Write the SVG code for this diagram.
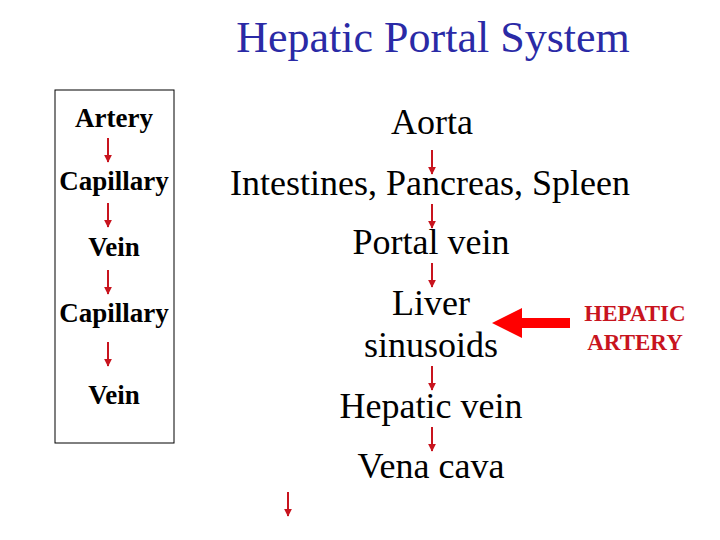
<svg xmlns="http://www.w3.org/2000/svg" width="720" height="540" viewBox="0 0 720 540">
<defs>
<style>
text{font-family:'Liberation Serif','Times New Roman',serif;text-anchor:middle}
.title{font-size:44px;fill:#2a2aa6}
.lt{font-size:27px;font-weight:bold;fill:#000}
.rt{font-size:36px;fill:#000}
.ha{font-size:23px;font-weight:bold;fill:#c8141e}
.sa{stroke:#c8141e;stroke-width:2;fill:none;marker-end:url(#ah)}
</style>
<marker id="ah" viewBox="0 0 10 10" refX="9" refY="5" markerWidth="4" markerHeight="4" orient="auto" markerUnits="strokeWidth">
<path d="M0,0 L10,5 L0,10 z" fill="#c8141e"/>
</marker>
</defs>
<rect width="720" height="540" fill="#fff"/>
<text class="title" x="433" y="52">Hepatic Portal System</text>
<g id="box"><rect x="55" y="90" width="119" height="353" fill="none" stroke="#000" stroke-width="1"/></g>
<g id="artery"><text class="lt" x="114" y="127">Artery</text></g>
<g id="capillary1"><text class="lt" x="114" y="190">Capillary</text></g>
<g id="vein1"><text class="lt" x="114" y="256">Vein</text></g>
<g id="capillary2"><text class="lt" x="114" y="322">Capillary</text></g>
<g id="vein2"><text class="lt" x="114" y="404">Vein</text></g>
<g id="aorta"><text class="rt" x="432" y="134">Aorta</text></g>
<g id="intestines"><text class="rt" x="430" y="195">Intestines, Pancreas, Spleen</text></g>
<g id="portal"><text class="rt" x="431" y="254">Portal vein</text></g>
<g id="liver"><text class="rt" x="431" y="315">Liver</text><text class="rt" x="431" y="357">sinusoids</text></g>
<g id="hepaticvein"><text class="rt" x="431" y="418">Hepatic vein</text></g>
<g id="venacava"><text class="rt" x="431" y="478">Vena cava</text></g>
<g id="hepaticartery"><text class="ha" x="635" y="321">HEPATIC</text><text class="ha" x="635" y="350">ARTERY</text></g>
<g id="connectors">
<line class="sa" x1="108" y1="138" x2="108" y2="162"/>
<line class="sa" x1="108" y1="203" x2="108" y2="227"/>
<line class="sa" x1="108" y1="270" x2="108" y2="294"/>
<line class="sa" x1="108" y1="342" x2="108" y2="366"/>
<line class="sa" x1="432" y1="150" x2="432" y2="174"/>
<line class="sa" x1="432" y1="204" x2="432" y2="228"/>
<line class="sa" x1="432" y1="263" x2="432" y2="287"/>
<line class="sa" x1="432" y1="366" x2="432" y2="390"/>
<line class="sa" x1="432" y1="427" x2="432" y2="451"/>
<line class="sa" x1="288" y1="492" x2="288" y2="516"/>
<path d="M570,318 L522,318 L522,308 L492,323 L522,338 L522,328 L570,328 z" fill="#ff0000"/>
</g>
</svg>
